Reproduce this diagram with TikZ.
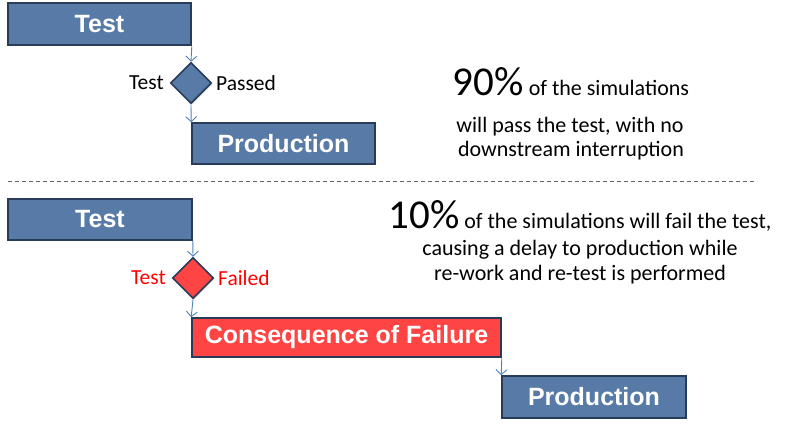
\documentclass[tikz,border=0pt]{standalone}
\usepackage{fontspec}
\setmainfont{Carlito}
\newfontfamily\boxfont{Liberation Sans}
\usetikzlibrary{shapes.geometric,arrows.meta,shadows}
\definecolor{boxblue}{RGB}{88,122,166}
\definecolor{boxblueedge}{RGB}{40,60,90}
\definecolor{boxred}{RGB}{255,68,68}
\definecolor{arrowblue}{RGB}{79,129,189}
\definecolor{failred}{RGB}{255,0,0}
\tikzset{
  blockbox/.style={draw=boxblueedge, line width=1.6pt, fill=boxblue, text=white,
    font=\boxfont\bfseries\fontsize{25}{27}\selectfont, inner sep=0pt,
    drop shadow={shadow xshift=1.2pt, shadow yshift=-1.2pt, opacity=0.35}},
  redbox/.style={blockbox, fill=boxred},
  decision/.style={diamond, draw=boxblueedge, line width=1.6pt, fill=boxblue,
    minimum size=41pt, inner sep=0pt,
    drop shadow={shadow xshift=1.2pt, shadow yshift=-1.2pt, opacity=0.35}},
  reddecision/.style={decision, fill=boxred},
  flow/.style={draw=arrowblue, line width=0.9pt, -{Straight Barb[length=5pt,width=11pt]}},
  lbl/.style={font=\fontsize{21.5}{23}\selectfont, inner sep=0pt},
  body/.style={font=\fontsize{22}{25}\selectfont, inner sep=0pt, anchor=base},
  bigpct/.style={}
}
\newcommand{\pctfont}{\fontsize{41}{43}\selectfont}
\begin{document}
\begin{tikzpicture}[x=1pt,y=-1pt]
\useasboundingbox (0,0) rectangle (792,427);
% ---- upper scenario
\node[blockbox, minimum width=183pt, minimum height=42pt] (t1) at (99.5,24) {Test};
\node[decision] (d1) at (191,83) {};
\node[lbl, anchor=east] (l1a) at (164,83) {Test};
\node[lbl, anchor=west] (l1b) at (216,83) {Passed};
\node[blockbox, minimum width=183pt, minimum height=41pt] (p1) at (283.5,143.5) {Production};
\draw[flow] (t1.south east) -- (d1.north);
\draw[flow] (d1.south) -- (p1.north west);
\node[body] (s1) at (571,96) {{\pctfont 90\%} of the simulations};
\node[body] (s2) at (570,133) {will pass the test, with no};
\node[body] (s3) at (571,157) {downstream interruption};
% ---- divider
\coordinate (dl) at (8,181);
\coordinate (dr) at (757,181);
\draw[gray!80!black, line width=0.8pt, dash pattern=on 4pt off 3pt] (dl) -- (dr);
% ---- lower scenario
\node[blockbox, minimum width=184pt, minimum height=41pt] (t2) at (100,219.5) {Test};
\node[reddecision] (d2) at (193,278) {};
\node[lbl, anchor=east, text=failred] (l2a) at (166,278) {Test};
\node[lbl, anchor=west, text=failred] (l2b) at (218,278) {Failed};
\node[redbox, minimum width=309pt, minimum height=39pt] (c2) at (346.5,337.5) {Consequence of Failure};
\node[blockbox, minimum width=184pt, minimum height=42pt] (p2) at (594,397) {Production};
\draw[flow] (t2.south east) -- (d2.north);
\draw[flow] (d2.south) -- (c2.north west);
\draw[flow] (c2.south east) -- (p2.north west);
\node[body] (u1) at (580,229) {{\pctfont 10\%} of the simulations will fail the test,};
\node[body] (u2) at (580,256) {causing a delay to production while};
\node[body] (u3) at (580,281) {re-work and re-test is performed};
\end{tikzpicture}
\end{document}
